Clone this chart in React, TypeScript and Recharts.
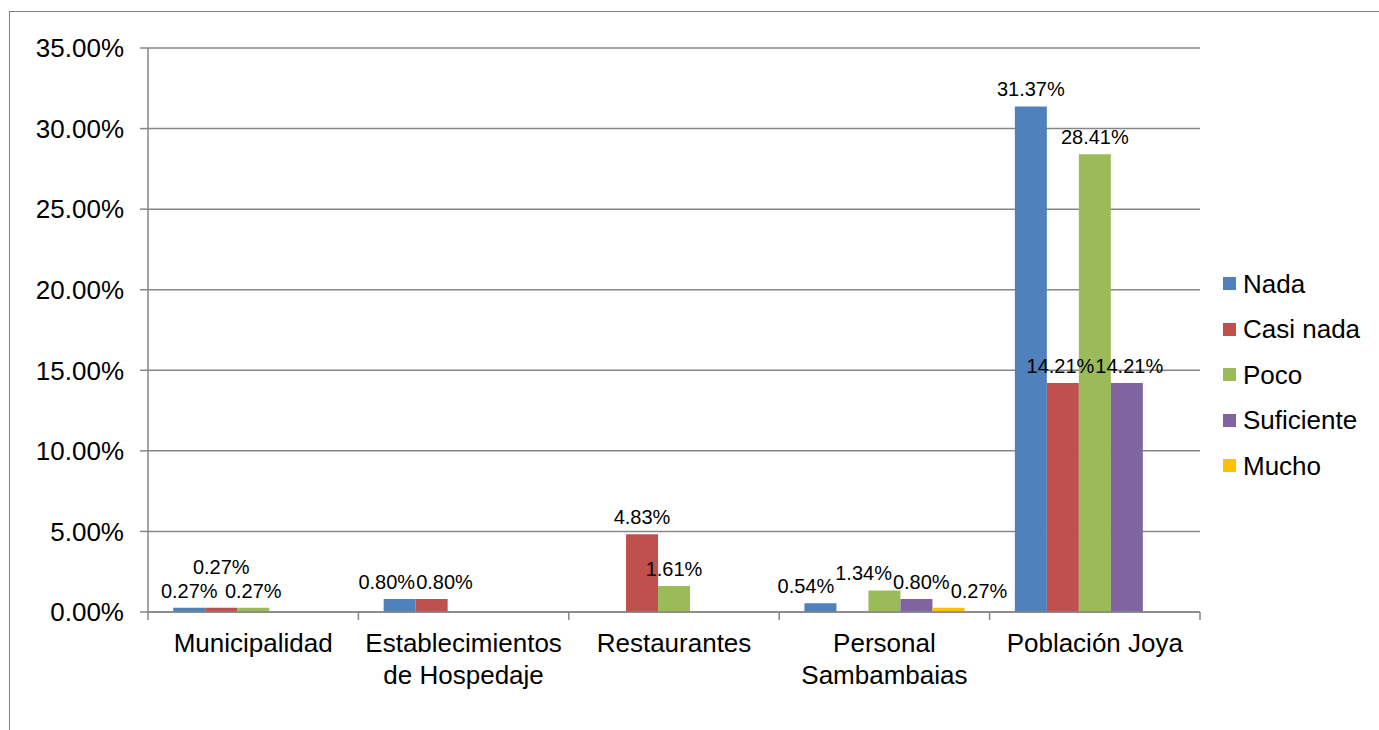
import React from "react";
import { BarChart, Bar, XAxis, YAxis, CartesianGrid, Legend, LabelList } from "recharts";

const categories = [
  "Municipalidad",
  "Establecimientos de Hospedaje",
  "Restaurantes",
  "Personal Sambambaias",
  "Población Joya",
];
const nada = [0.27, 0.8, 0, 0.54, 31.37];
const casiNada = [0.27, 0.8, 4.83, 0, 14.21];
const poco = [0.27, 0, 1.61, 1.34, 28.41];
const suficiente = [0, 0, 0, 0.8, 14.21];
const mucho = [0, 0, 0, 0.27, 0];
const yTicks = [0, 5, 10, 15, 20, 25, 30, 35];

const seriesDefs = [
  { key: "Nada", values: nada, color: "#4F81BD" },
  { key: "Casi nada", values: casiNada, color: "#C0504D" },
  { key: "Poco", values: poco, color: "#9BBB59" },
  { key: "Suficiente", values: suficiente, color: "#8064A2" },
  { key: "Mucho", values: mucho, color: "#FFC000" },
];

const data = categories.map((c, i) => {
  const row: any = { name: c };
  seriesDefs.forEach((s) => {
    row[s.key] = s.values[i];
  });
  return row;
});

const CHART_W = 1379;
const CHART_H = 730;
const MARGIN = { top: 48, right: 179, bottom: 18, left: 0 };
const Y_AXIS_W = 148;
const PLOT_LEFT = MARGIN.left + Y_AXIS_W;
const PLOT_W = CHART_W - MARGIN.left - MARGIN.right - Y_AXIS_W;

const AXIS = "#868686";
const FONT = "'Liberation Sans', Arial, sans-serif";
const LABEL_SIZE = 20;
const LABEL_RISE = 17;
const LABEL_H = 22;

const fmt = (v: number) => v.toFixed(2) + "%";
const textW = (v: number) => {
  const s = fmt(v);
  let em = 0;
  for (const ch of s) em += ch === "." ? 0.278 : ch === "%" ? 0.889 : 0.556;
  return em * LABEL_SIZE;
};

type Lbl = { j: number; cx: number; cy: number; w: number };

const overlaps = (a: Lbl, b: Lbl) =>
  Math.abs(a.cy - b.cy) < LABEL_H && Math.abs(a.cx - b.cx) < (a.w + b.w) / 2;

// place the labels of one category so that they do not collide
function placeLabels(cat: number, sIdx: number, x: number, y: number, width: number, height: number, value: number): Lbl | undefined {
  const ppu = height / value;
  const bottom = y + height;
  const labels: Lbl[] = [];
  seriesDefs.forEach((s, j) => {
    const v = s.values[cat];
    if (!v) return;
    const top = bottom - v * ppu;
    labels.push({ j, cx: x + width / 2 + (j - sIdx) * width, cy: top - LABEL_RISE, w: textW(v) });
  });
  for (let k = 1; k < labels.length - 1; k++) {
    const m = labels[k];
    if (overlaps(m, labels[k - 1]) && overlaps(m, labels[k + 1])) {
      const raised = { ...m, cy: m.cy - LABEL_H - 2 };
      if (!labels.some((o) => o !== m && overlaps(raised, o))) m.cy = raised.cy;
    }
  }
  for (let it = 0; it < 80; it++) {
    let moved = false;
    for (let a = 0; a < labels.length; a++) {
      for (let b = a + 1; b < labels.length; b++) {
        const A = labels[a];
        const B = labels[b];
        if (Math.abs(A.cy - B.cy) >= LABEL_H) continue;
        const need = (A.w + B.w) / 2 + 1;
        const d = B.cx - A.cx;
        if (d < need) {
          const sh = (need - d) / 2;
          A.cx -= sh;
          B.cx += sh;
          moved = true;
        }
      }
    }
    if (!moved) break;
  }
  return labels.find((l) => l.j === sIdx);
}

const findCategory = (x: number, width: number) => {
  const band = PLOT_W / categories.length;
  return Math.max(0, Math.min(categories.length - 1, Math.floor((x + width / 2 - PLOT_LEFT) / band)));
};

const makeLabel = (sIdx: number) => (props: any) => {
  const { x, y, width, height, value } = props;
  if (!value) return null;
  const nx = Number(x);
  const nw = Number(width);
  const cat = findCategory(nx, nw);
  const p = placeLabels(cat, sIdx, nx, Number(y), nw, Number(height), Number(value));
  if (!p) return null;
  return (
    <text
      x={p.cx}
      y={p.cy + 7}
      textAnchor="middle"
      fontSize={LABEL_SIZE}
      fill="#000"
      fontFamily={FONT}
    >
      {fmt(Number(value))}
    </text>
  );
};

const XTick = (props: any) => {
  const { x, y, payload, width, visibleTicksCount, index } = props;
  const half =
    payload && typeof payload.offset === "number" && payload.offset > 0
      ? payload.offset
      : width / visibleTicksCount / 2;
  const text: string = String(payload.value);
  let lines = [text];
  if (text.length > 15 && text.indexOf(" ") > 0) {
    const k = text.indexOf(" ");
    lines = [text.slice(0, k), text.slice(k + 1)];
  }
  return (
    <g>
      <line x1={x - half} x2={x - half} y1={y - 8} y2={y} stroke={AXIS} strokeWidth={1.5} />
      {index === visibleTicksCount - 1 && (
        <line x1={x + half} x2={x + half} y1={y - 8} y2={y} stroke={AXIS} strokeWidth={1.5} />
      )}
      {lines.map((l, i) => (
        <text
          key={i}
          x={x}
          y={y + 32 + i * 32}
          textAnchor="middle"
          fontSize={26}
          fill="#000"
          fontFamily={FONT}
        >
          {l}
        </text>
      ))}
    </g>
  );
};

const LegendContent = () => (
  <div style={{ fontFamily: FONT }}>
    {seriesDefs.map((s) => (
      <div
        key={s.key}
        style={{ height: 45.5, display: "flex", alignItems: "center", whiteSpace: "nowrap" }}
      >
        <span
          style={{ display: "inline-block", width: 13, height: 13, background: s.color, marginRight: 7 }}
        />
        <span style={{ fontSize: 26, color: "#000", lineHeight: "30px" }}>{s.key}</span>
      </div>
    ))}
  </div>
);

export default function App() {
  return (
    <div
      style={{
        position: "absolute",
        left: 0,
        top: 0,
        width: CHART_W,
        height: CHART_H,
        overflow: "hidden",
        background: "#fff",
        fontFamily: FONT,
      }}
    >
      <div
        style={{
          position: "absolute",
          left: 9,
          top: 11,
          width: 1500,
          height: 900,
          border: "1px solid #808080",
          boxSizing: "border-box",
        }}
      />
      <div style={{ position: "absolute", left: 0, top: 0 }}>
        <BarChart
          width={CHART_W}
          height={CHART_H}
          data={data}
          margin={MARGIN}
          barCategoryGap="12%"
          barGap={0}
        >
          <CartesianGrid vertical={false} stroke={AXIS} strokeWidth={1.5} />
          <XAxis
            dataKey="name"
            type="category"
            height={100}
            tickSize={8}
            tickMargin={0}
            tickLine={false}
            axisLine={{ stroke: AXIS, strokeWidth: 1.5 }}
            tick={<XTick />}
            interval={0}
          />
          <YAxis
            width={Y_AXIS_W}
            domain={[0, 35]}
            ticks={yTicks}
            interval={0}
            tickFormatter={(v: number) => v.toFixed(2) + "%"}
            tickSize={8}
            tickMargin={16}
            axisLine={{ stroke: AXIS, strokeWidth: 1.5 }}
            tickLine={{ stroke: AXIS, strokeWidth: 1.5 }}
            tick={{ fontSize: 26, fill: "#000", fontFamily: FONT }}
          />
          <Legend
            layout="vertical"
            align="center"
            verticalAlign="middle"
            content={<LegendContent />}
            wrapperStyle={{ left: 1223, top: 261, width: 156 }}
          />
          {seriesDefs.map((s, sIdx) => (
            <Bar key={s.key} dataKey={s.key} fill={s.color} isAnimationActive={false}>
              <LabelList dataKey={s.key} content={makeLabel(sIdx)} />
            </Bar>
          ))}
        </BarChart>
      </div>
    </div>
  );
}
